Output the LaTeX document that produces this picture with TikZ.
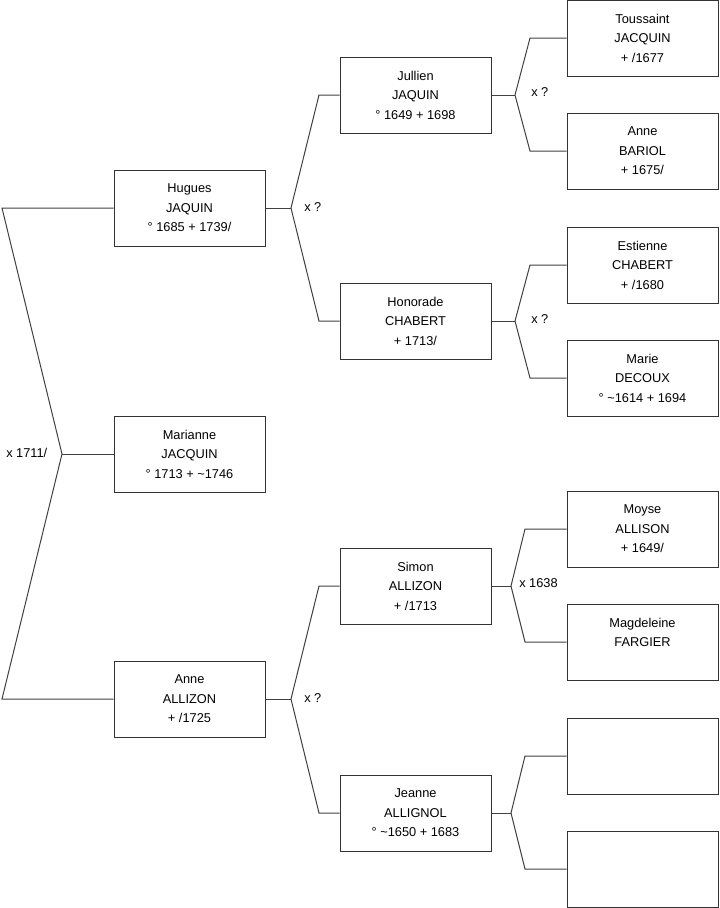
\documentclass[tikz,border=0pt]{standalone}
\usepackage{fontspec}
\setmainfont{Liberation Sans}
\usepackage{tikz}

\tikzset{
  person/.style={draw=black!80, line width=0.75pt, minimum width=113.25pt,
    minimum height=57pt, inner sep=0pt, align=center,
    font=\fontsize{9.6}{14.6}\selectfont},
  link/.style={black!75, line width=0.75pt},
  union/.style={font=\fontsize{9.6}{11}\selectfont, inner sep=0pt}
}

\begin{document}
\begin{tikzpicture}[x=0.75pt, y=-0.75pt]
  \useasboundingbox (0,0) rectangle (719,908);
  % generation 1
  \node[person] (marianne) at (189.5,454) {Marianne\\JACQUIN\\° 1713 + \textasciitilde1746};
  % generation 2
  \node[person] (hugues) at (189.5,208) {Hugues\\JAQUIN\\° 1685 + 1739/};
  \node[person] (anne) at (189.5,699) {Anne\\ALLIZON\\+ /1725};
  % generation 3
  \node[person] (jullien) at (415.5,95) {Jullien\\JAQUIN\\° 1649 + 1698};
  \node[person] (honorade) at (415.5,321) {Honorade\\CHABERT\\+ 1713/};
  \node[person] (simon) at (415.5,586) {Simon\\ALLIZON\\+ /1713};
  \node[person] (jeanne) at (415.5,813) {Jeanne\\ALLIGNOL\\° \textasciitilde1650 + 1683};
  % generation 4
  \node[person] (toussaint) at (642.5,38) {Toussaint\\JACQUIN\\+ /1677};
  \node[person] (bariol) at (642.5,151) {Anne\\BARIOL\\+ 1675/};
  \node[person] (estienne) at (642.5,265) {Estienne\\CHABERT\\+ /1680};
  \node[person] (marie) at (642.5,378) {Marie\\DECOUX\\° \textasciitilde1614 + 1694};
  \node[person] (moyse) at (642.5,529) {Moyse\\ALLISON\\+ 1649/};
  \node[person] (magdeleine) at (642.5,642) {Magdeleine\\FARGIER\\~};
  \node[person] (inconnu1) at (642.5,756) {};
  \node[person] (inconnu2) at (642.5,869) {};

  % bends of the brackets
  \coordinate (j0) at (62,454);  \coordinate (a0) at (2,208);   \coordinate (b0) at (2,699);
  \coordinate (j1) at (291,208); \coordinate (a1) at (319,95);  \coordinate (b1) at (319,321);
  \coordinate (j2) at (291,699); \coordinate (a2) at (319,586); \coordinate (b2) at (319,813);
  \coordinate (j3) at (515,95);  \coordinate (a3) at (530,38);  \coordinate (b3) at (530,151);
  \coordinate (j4) at (515,321); \coordinate (a4) at (530,265); \coordinate (b4) at (530,378);
  \coordinate (j5) at (511,586); \coordinate (a5) at (525,529); \coordinate (b5) at (525,642);
  \coordinate (j6) at (511,813); \coordinate (a6) at (525,756); \coordinate (b6) at (525,869);

  % parents of Marianne
  \draw[link] (marianne.west) -- (j0);
  \draw[link] (hugues.west) -- (a0) -- (j0) -- (b0) -- (anne.west);
  \node[union, anchor=west] (u0) at (6,453) {x 1711/};
  % parents of Hugues
  \draw[link] (hugues.east) -- (j1);
  \draw[link] (jullien.west) -- (a1) -- (j1) -- (b1) -- (honorade.west);
  \node[union, anchor=west] (u1) at (304,207) {x ?};
  % parents of Anne
  \draw[link] (anne.east) -- (j2);
  \draw[link] (simon.west) -- (a2) -- (j2) -- (b2) -- (jeanne.west);
  \node[union, anchor=west] (u2) at (304,698) {x ?};
  % parents of Jullien
  \draw[link] (jullien.east) -- (j3);
  \draw[link] (toussaint.west) -- (a3) -- (j3) -- (b3) -- (bariol.west);
  \node[union, anchor=west] (u3) at (531,92) {x ?};
  % parents of Honorade
  \draw[link] (honorade.east) -- (j4);
  \draw[link] (estienne.west) -- (a4) -- (j4) -- (b4) -- (marie.west);
  \node[union, anchor=west] (u4) at (531,319) {x ?};
  % parents of Simon
  \draw[link] (simon.east) -- (j5);
  \draw[link] (moyse.west) -- (a5) -- (j5) -- (b5) -- (magdeleine.west);
  \node[union, anchor=west] (u5) at (519,583) {x 1638};
  % parents of Jeanne
  \draw[link] (jeanne.east) -- (j6);
  \draw[link] (inconnu1.west) -- (a6) -- (j6) -- (b6) -- (inconnu2.west);
\end{tikzpicture}
\end{document}
